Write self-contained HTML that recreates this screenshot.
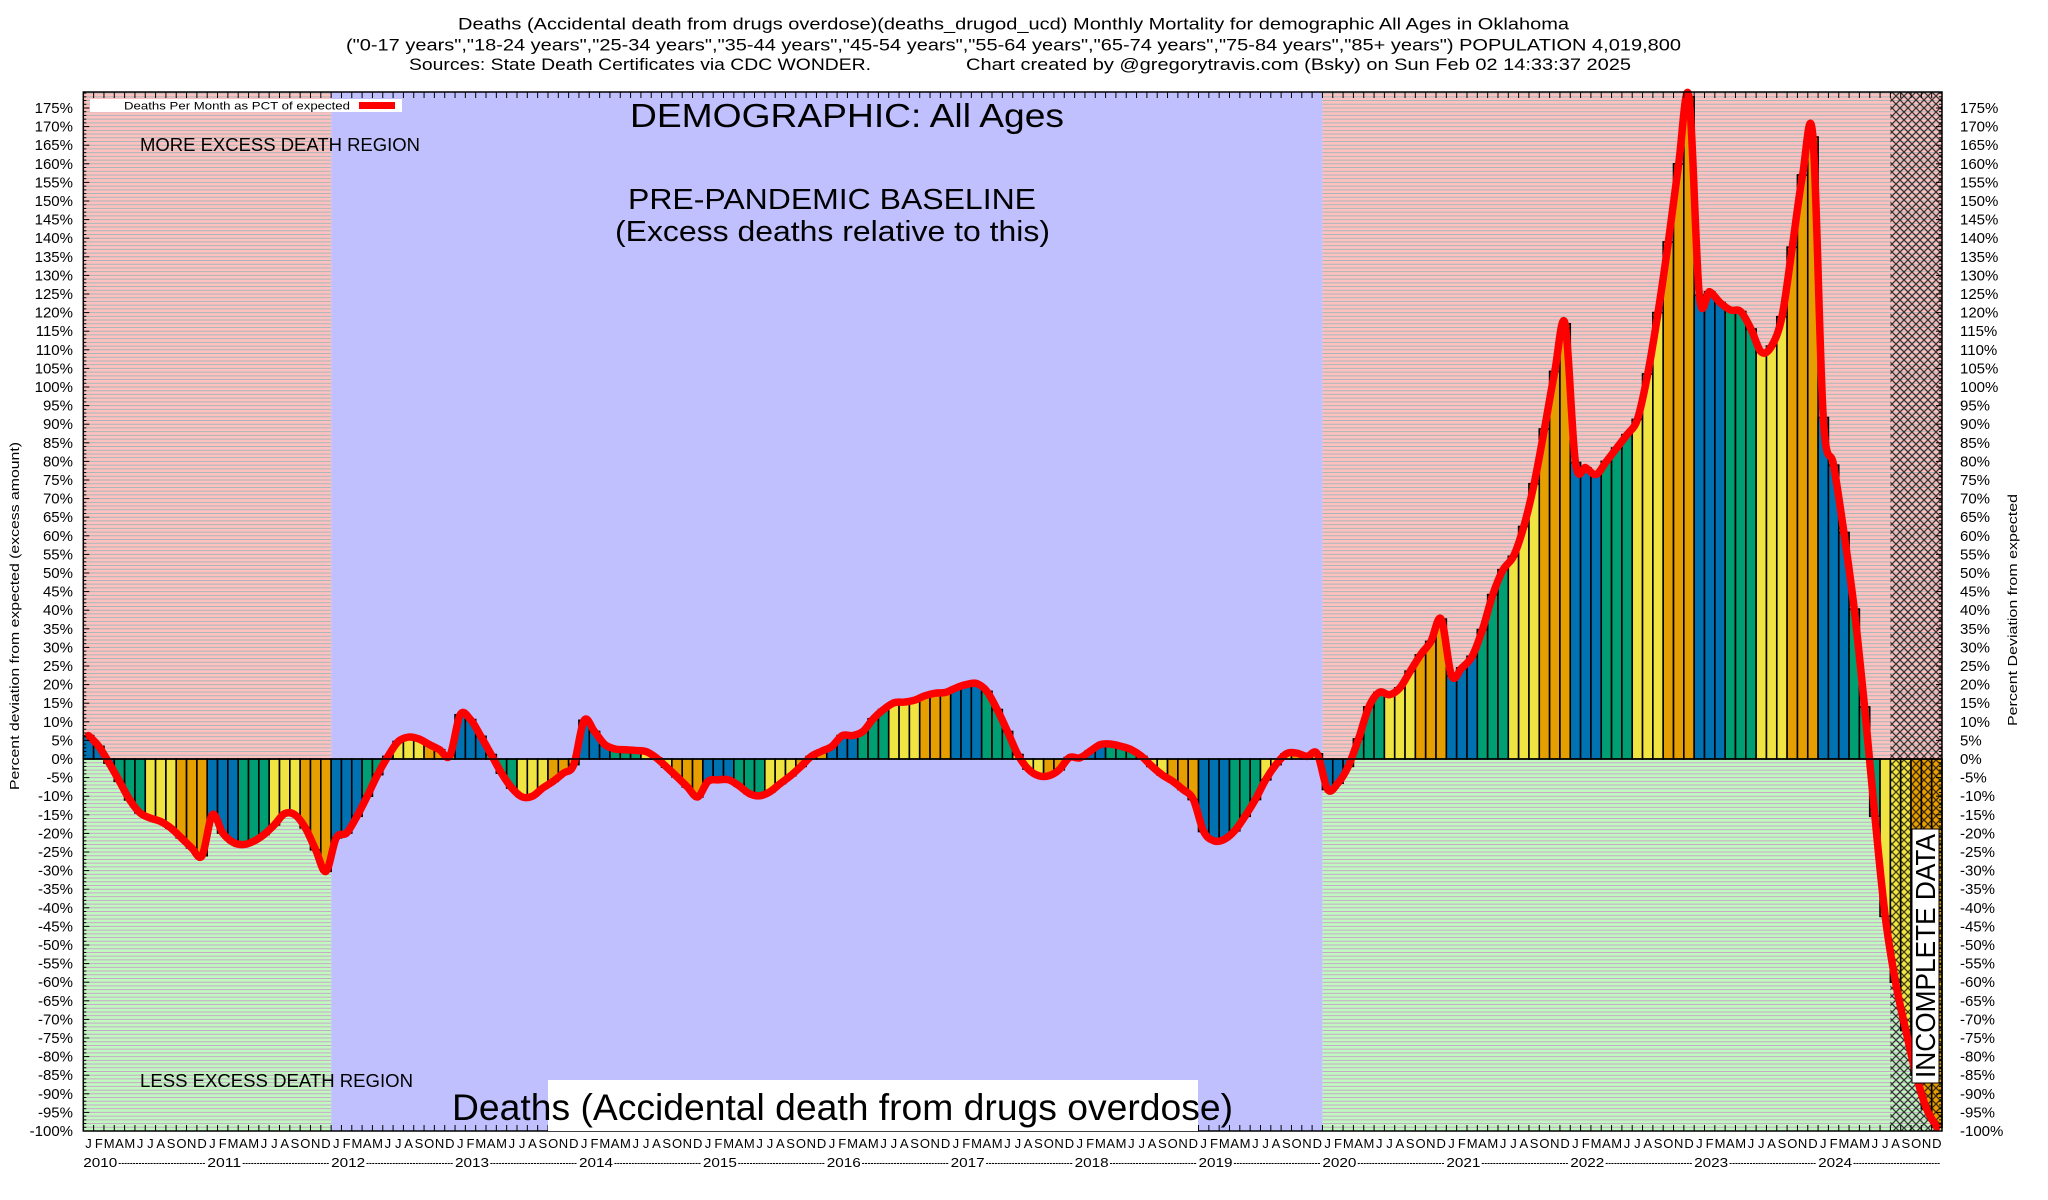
<!DOCTYPE html>
<html><head><meta charset="utf-8"><style>
html,body{margin:0;padding:0;background:#fff;}
svg{display:block;font-family:"Liberation Sans",Arial,sans-serif;}
</style></head><body>
<svg id="chart" width="2048" height="1200" viewBox="0 0 2048 1200" xmlns="http://www.w3.org/2000/svg">
<defs>
<pattern id="hatch" width="8" height="8" patternUnits="userSpaceOnUse">
<path d="M0,0 L8,8 M8,0 L0,8" stroke="#000" stroke-width="1.3" opacity="0.75"/>
</pattern>
</defs>
<g id="bg"></g>
<g id="bars"></g>
<g id="hatchg"></g>
<path id="line" fill="none" stroke="#ff0000" stroke-width="7.5" stroke-linejoin="round" stroke-linecap="round"/>
<g id="axes"></g>

<text x="458" y="29.5" font-size="17" textLength="1111" lengthAdjust="spacingAndGlyphs">Deaths (Accidental death from drugs overdose)(deaths_drugod_ucd) Monthly Mortality for demographic All Ages in Oklahoma</text>
<text x="346" y="50.4" font-size="17" textLength="1335" lengthAdjust="spacingAndGlyphs">("0-17 years","18-24 years","25-34 years","35-44 years","45-54 years","55-64 years","65-74 years","75-84 years","85+ years") POPULATION 4,019,800</text>
<text x="409" y="70" font-size="17" textLength="462" lengthAdjust="spacingAndGlyphs">Sources: State Death Certificates via CDC WONDER.</text>
<text x="966" y="70" font-size="17" textLength="665" lengthAdjust="spacingAndGlyphs">Chart created by @gregorytravis.com (Bsky) on Sun Feb 02 14:33:37 2025</text>

<g>
<rect x="90" y="99" width="312" height="13" fill="#fff"/>
<text x="124" y="109.5" font-size="11" textLength="226" lengthAdjust="spacingAndGlyphs">Deaths Per Month as PCT of expected</text>
<rect x="359" y="102" width="36" height="7" fill="#ff0000"/>
</g>

<text x="630" y="127" font-size="33" textLength="434" lengthAdjust="spacingAndGlyphs">DEMOGRAPHIC: All Ages</text>
<text x="628" y="209" font-size="29" textLength="408" lengthAdjust="spacingAndGlyphs">PRE-PANDEMIC BASELINE</text>
<text x="615" y="241" font-size="29" textLength="435" lengthAdjust="spacingAndGlyphs">(Excess deaths relative to this)</text>
<text x="140" y="151" font-size="18" textLength="280" lengthAdjust="spacingAndGlyphs">MORE EXCESS DEATH REGION</text>
<text x="140" y="1087" font-size="18" textLength="273" lengthAdjust="spacingAndGlyphs">LESS EXCESS DEATH REGION</text>
<rect x="548" y="1080" width="650" height="51" fill="#fff"/>
<text x="452" y="1120" font-size="37" textLength="781" lengthAdjust="spacingAndGlyphs">Deaths (Accidental death from drugs overdose)</text>
<g>
<rect x="1912" y="829" width="27" height="254" fill="#fff" stroke="#000" stroke-width="1"/>
<text transform="translate(1935,1078) rotate(-90)" font-size="28" textLength="244" lengthAdjust="spacingAndGlyphs">INCOMPLETE DATA</text>
</g>
<text transform="translate(19,790) rotate(-90)" font-size="13" textLength="348" lengthAdjust="spacingAndGlyphs">Percent deviation from expected (excess amount)</text>
<text transform="translate(2017,726) rotate(-90)" font-size="13" textLength="232" lengthAdjust="spacingAndGlyphs">Percent Deviation from expected</text>
</svg>
<script>
const years = ["2010","2011","2012","2013","2014","2015","2016","2017","2018","2019","2020","2021","2022","2023","2024"];
const monthLetters = ["J","F","M","A","M","J","J","A","S","O","N","D"];
const yTicks = [-100,-95,-90,-85,-80,-75,-70,-65,-60,-55,-50,-45,-40,-35,-30,-25,-20,-15,-10,-5,0,5,10,15,20,25,30,35,40,45,50,55,60,65,70,75,80,85,90,95,100,105,110,115,120,125,130,135,140,145,150,155,160,165,170,175];
const pctValues = [
6.3,3.4,-1.1,-6,-11,-14.5,-15.9,-16.8,-18.6,-21.2,-23.9,-26,
-15,-19.9,-22.4,-23,-22.1,-20.3,-17.7,-14.7,-15,-18.5,-24.4,-30.2,
-21.2,-19.9,-15.4,-10,-4.2,0.7,4.7,5.9,5.4,3.9,2.5,0.9,
11.9,10.6,6.1,1.2,-3.8,-7.8,-10.2,-10,-7.8,-6,-3.8,-1.5,
10.4,7.4,3.9,2.7,2.5,2.3,2.0,0.3,-2.2,-4.8,-7.5,-10.2,
-6,-5.6,-5.6,-7.2,-9.3,-9.9,-8.8,-6.6,-4.5,-2,0.7,2.1,
3.4,6.3,6.3,7.4,10.8,13.3,15.1,15.3,15.8,17,17.7,17.9,
19.1,20,20.3,18.2,13.3,7.4,1.2,-2.7,-4.5,-4.5,-2.9,0.4,
0.3,2.1,3.9,4.0,3.4,2.5,0.7,-2,-4.3,-6,-8.2,-10.9,
-19.5,-22,-21.6,-19.3,-15.4,-10.9,-5.6,-1.5,1.4,1.6,0.7,1.4,
-8.2,-6.5,-2,5.4,14,17.9,17.3,19.1,23.6,28,31.6,37.6,
22.4,24.5,27.6,34.8,44.2,50.9,54.5,62.5,74,88.7,104.2,117,
79.7,78.3,76.5,80,83.6,87.2,91.3,103.5,120,139,160,178,
124.7,125.6,122.7,120.7,120.3,115.6,109.4,111,118.9,137.6,157,167.2,
91.8,79,60.9,40.3,14,-15.4,-42.3,-60,-73,-85,-94,-99];
const baselineStartMonth = 24, baselineEndMonth = 120, incompleteStartMonth = 175;

const NS = "http://www.w3.org/2000/svg";
const L = 83.3, R = 1942, T = 92, B = 1131;
const yMin = -100, yMax = 179.3;
const nM = years.length * 12;
const bw = (R - L) / nM;
const xS = i => L + i * bw;
const yS = v => B - (v - yMin) / (yMax - yMin) * (B - T);
const y0 = yS(0);
const colors = ["#0072b2","#009e73","#f0e442","#e69f00"];
function mk(tag, attrs, parent){const e=document.createElementNS(NS,tag);for(const k in attrs)e.setAttribute(k,attrs[k]);parent.appendChild(e);return e;}

const bg = document.getElementById('bg');
function region(x1,x2,name){
  let r = mk('rect',{x:x1,y:T,width:x2-x1,height:y0-T,fill:'#ffc0c0'},bg);
  
  
  r = mk('rect',{x:x1,y:y0,width:x2-x1,height:B-y0,fill:'#c0f8c0'},bg);
  
  
  for(let v=-100; v<=179; v++){
    if(v===0) continue;
    const yy = yS(v);
    mk('line',{x1:x1,x2:x2,y1:yy,y2:yy,stroke: v>0?'#a8b8b8':'#c8a8c8','stroke-width':1},bg);
  }
}
region(L, xS(baselineStartMonth), 'early');
region(xS(baselineEndMonth), R, 'pandemic');
const base = mk('rect',{x:xS(baselineStartMonth),y:T,width:xS(baselineEndMonth)-xS(baselineStartMonth),height:B-T,fill:'#c0c0ff'},bg);



const barsG = document.getElementById('bars');
pctValues.forEach((v,i)=>{
  const yv = yS(v);
  const r = mk('rect',{x:xS(i),y:Math.min(yv,y0),width:bw,height:Math.max(0.5,Math.abs(yv-y0)),fill:colors[Math.floor((i%12)/3)],stroke:'#000','stroke-width':1.6},barsG);
  
  
});

const hg = document.getElementById('hatchg');
const hr = mk('rect',{x:xS(incompleteStartMonth),y:T,width:R-xS(incompleteStartMonth),height:B-T,fill:'url(#hatch)'},hg);



const pts = pctValues.map((v,i)=>[xS(i)+bw/2, yS(v)]);
let d = 'M'+pts[0][0]+','+pts[0][1];
for(let i=0;i<pts.length-1;i++){
  const p0=pts[Math.max(0,i-1)],p1=pts[i],p2=pts[i+1],p3=pts[Math.min(pts.length-1,i+2)];
  const c1=[p1[0]+(p2[0]-p0[0])/6,p1[1]+(p2[1]-p0[1])/6];
  const c2=[p2[0]-(p3[0]-p1[0])/6,p2[1]-(p3[1]-p1[1])/6];
  d+=' C'+c1[0]+','+c1[1]+' '+c2[0]+','+c2[1]+' '+p2[0]+','+p2[1];
}
document.getElementById('line').setAttribute('d',d);

const ax = document.getElementById('axes');
mk('line',{x1:L,x2:R,y1:y0,y2:y0,stroke:'#000','stroke-width':1.5},ax);
mk('rect',{x:L,y:T,width:R-L,height:B-T,fill:'none',stroke:'#000','stroke-width':1.5},ax);
for(let v=-100; v<=179; v++){
  const yy=yS(v), len = v%5===0?6:3;
  mk('line',{x1:L,x2:L+len,y1:yy,y2:yy,stroke:'#000','stroke-width':1},ax);
  mk('line',{x1:R-len,x2:R,y1:yy,y2:yy,stroke:'#000','stroke-width':1},ax);
}
yTicks.forEach(v=>{
  const yy=yS(v)+5;
  let t = mk('text',{x:73,y:yy,'font-size':15,'text-anchor':'end'},ax);
  t.textContent = v+'%';
  
  
  t = mk('text',{x:1960,y:yy,'font-size':15},ax);
  t.textContent = v+'%';
  
  
});
for(let i=1;i<nM;i++){
  const xx=xS(i);
  mk('line',{x1:xx,x2:xx,y1:B,y2:B-6,stroke:'#000','stroke-width':1},ax);
  mk('line',{x1:xx,x2:xx,y1:T,y2:T+6,stroke:'#000','stroke-width':1},ax);
}
for(let i=0;i<nM;i++){
  const t = mk('text',{x:xS(i)+bw/2,y:1148,'font-size':13,'text-anchor':'middle'},ax);
  t.textContent = monthLetters[i%12];
  
  
}
years.forEach((yr,k)=>{
  const x0 = xS(k*12);
  const t = mk('text',{x:x0,y:1167,'font-size':13,textLength:34,lengthAdjust:'spacingAndGlyphs'},ax);
  t.textContent = yr;
  
  
  const dx = x0+35, dw = xS(k*12+12)-dx-2;
  const ds = mk('text',{x:dx,y:1167,'font-size':13,textLength:dw,lengthAdjust:'spacingAndGlyphs'},ax);
  ds.textContent = '-'.repeat(30);
  
  
});
</script>
</body></html>
